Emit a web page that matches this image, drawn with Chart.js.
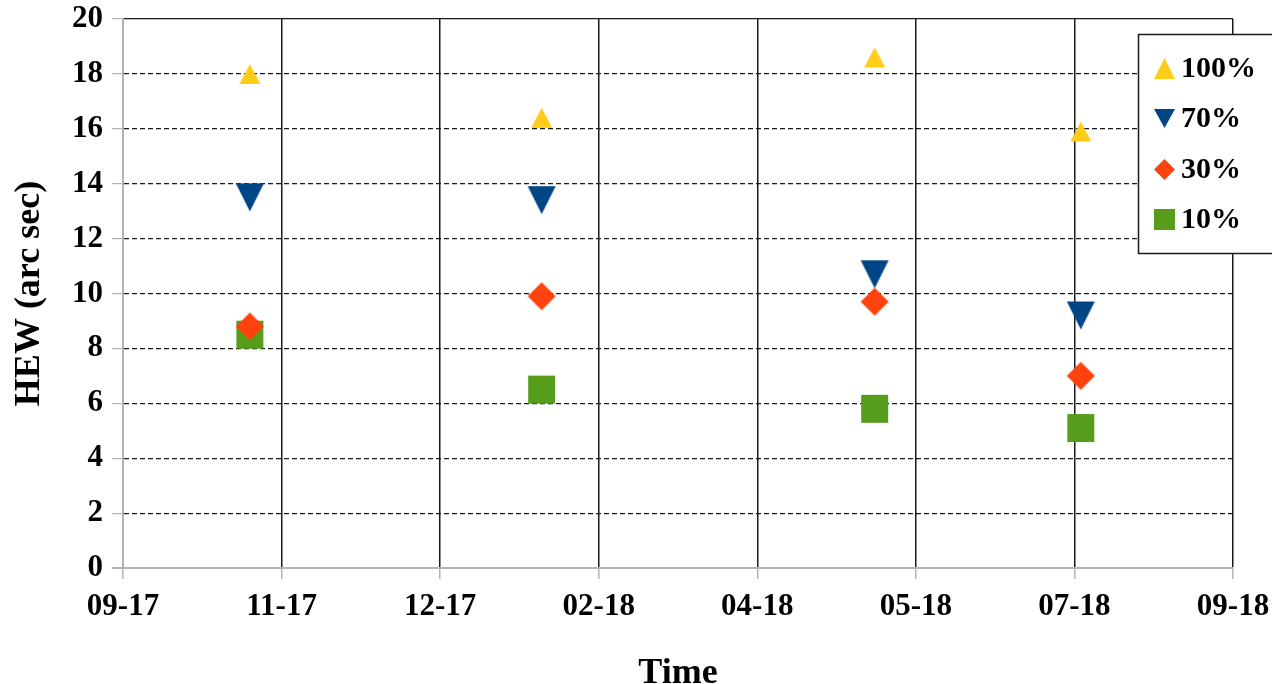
<!DOCTYPE html>
<html>
<head>
<meta charset="utf-8">
<script src="https://cdn.jsdelivr.net/npm/chart.js@4.4.1/dist/chart.umd.min.js"></script>
<style>
  html, body { margin: 0; padding: 0; background: #ffffff; }
  #wrap { width: 1272px; height: 684px; position: relative; }
</style>
</head>
<body>
<div id="wrap"><canvas id="chart" width="1272" height="684"></canvas></div>
<script>
// Measurement campaigns (dates) and half-energy width per encircled-energy level
const measurementDates = ['2017-10-30', '2018-01-30', '2018-05-15', '2018-07-19'];
const hew100 = [18.0, 16.4, 18.6, 15.9];
const hew70  = [13.5, 13.4, 10.7, 9.2];
const hew30  = [8.8, 9.9, 9.7, 7.0];
const hew10  = [8.5, 6.5, 5.8, 5.1];

// Time axis: starts on 2017-09-20, one tick every 50 days
const axisStart = '2017-09-20';
const tickStepDays = 50;
const tickLabels = ['09-17', '11-17', '12-17', '02-18', '04-18', '05-18', '07-18', '09-18'];

const DAY = 86400000;
function daysFromStart(d) {
  return (Date.parse(d + 'T00:00:00Z') - Date.parse(axisStart + 'T00:00:00Z')) / DAY;
}
function points(values) {
  return values.map((v, i) => ({ x: daysFromStart(measurementDates[i]), y: v }));
}

const FONT = "'Liberation Serif', 'Times New Roman', serif";
const AXIS_GREY = '#b3b3b3';

// Symbol bitmaps, centred on their bounding box like office-suite chart symbols
function makeMarker(shape, w, h, color) {
  const c = document.createElement('canvas');
  c.width = Math.ceil(w) + 2;
  c.height = Math.ceil(h) + 2;
  const g = c.getContext('2d');
  g.fillStyle = color;
  g.beginPath();
  const x0 = 1, y0 = 1;
  if (shape === 'up') {
    g.moveTo(x0 + w / 2, y0);
    g.lineTo(x0 + w, y0 + h);
    g.lineTo(x0, y0 + h);
  } else if (shape === 'down') {
    g.moveTo(x0, y0);
    g.lineTo(x0 + w, y0);
    g.lineTo(x0 + w / 2, y0 + h);
  } else if (shape === 'diamond') {
    g.moveTo(x0 + w / 2, y0);
    g.lineTo(x0 + w, y0 + h / 2);
    g.lineTo(x0 + w / 2, y0 + h);
    g.lineTo(x0, y0 + h / 2);
  } else {
    g.rect(x0, y0, w, h);
  }
  g.closePath();
  g.fill();
  return c;
}

const seriesStyles = [
  { label: '100%', values: hew100, shape: 'up',      w: 21, h: 20, color: '#ffcc1a' },
  { label: '70%',  values: hew70,  shape: 'down',    w: 28, h: 28, color: '#004586' },
  { label: '30%',  values: hew30,  shape: 'diamond', w: 28, h: 28, color: '#ff420e' },
  { label: '10%',  values: hew10,  shape: 'square',  w: 27, h: 28, color: '#579d1c' }
];

const datasets = seriesStyles.map(s => ({
  label: s.label,
  data: points(s.values),
  showLine: false,
  pointStyle: makeMarker(s.shape, s.w, s.h, s.color),
  legendSymbol: makeMarker(s.shape, 21, s.shape === 'down' ? 19 : 21, s.color),
  pointRadius: 14,
  pointHoverRadius: 14,
  backgroundColor: s.color,
  borderColor: s.color
}));

// Boxed legend at the upper right, overlapping the plot edge
const boxLegend = {
  id: 'boxLegend',
  afterDraw(chart) {
    const ctx = chart.ctx;
    const left = 1138, top = 34, right = 1290, bottom = 253;
    ctx.save();
    ctx.fillStyle = '#ffffff';
    ctx.fillRect(left, top, right - left, bottom - top);
    ctx.strokeStyle = '#1a1a1a';
    ctx.lineWidth = 1.5;
    ctx.strokeRect(left + 0.5, top + 0.5, right - left, bottom - top);
    const rowY = [68, 118, 169, 219];
    chart.data.datasets.forEach((ds, i) => {
      const img = ds.legendSymbol;
      ctx.drawImage(img, Math.round(1164 - img.width / 2), Math.round(rowY[i] - img.height / 2));
      ctx.fillStyle = '#000000';
      ctx.font = 'bold 30px ' + FONT;
      ctx.textAlign = 'left';
      ctx.textBaseline = 'middle';
      ctx.fillText(ds.label, 1181, rowY[i] + 1);
    });
    ctx.restore();
  }
};

new Chart(document.getElementById('chart'), {
  type: 'scatter',
  data: { datasets },
  plugins: [boxLegend],
  options: {
    responsive: false,
    animation: false,
    events: [],
    layout: { padding: { top: 19, right: 39, left: 0, bottom: 0 } },
    plugins: {
      legend: { display: false },
      tooltip: { enabled: false }
    },
    scales: {
      x: {
        type: 'linear',
        min: 0,
        max: tickStepDays * (tickLabels.length - 1),
        afterBuildTicks(scale) {
          scale.ticks = tickLabels.map((_, i) => ({ value: i * tickStepDays }));
        },
        afterFit(scale) {
          scale.height = 116;
          scale.paddingLeft = 0;
          scale.paddingRight = 0;
        },
        ticks: {
          autoSkip: false,
          maxRotation: 0,
          padding: 9,
          color: '#000000',
          font: { family: FONT, size: 31, weight: 'bold' },
          callback: (v, i) => tickLabels[i]
        },
        grid: {
          color: ctx => ctx.index === 0 ? AXIS_GREY : '#1a1a1a',
          lineWidth: 1.5,
          tickColor: AXIS_GREY,
          tickLength: 11
        },
        border: { color: AXIS_GREY, width: 2 },
        title: {
          display: true,
          text: 'Time',
          color: '#000000',
          font: { family: FONT, size: 36, weight: 'bold', lineHeight: 0.57 },
          padding: { top: 0, bottom: 0 }
        }
      },
      y: {
        min: 0,
        max: 20,
        afterFit(scale) {
          scale.width = 123;
          scale.paddingTop = 0;
          scale.paddingBottom = 0;
        },
        ticks: {
          stepSize: 2,
          padding: 9,
          color: '#000000',
          font: { family: FONT, size: 31, weight: 'bold' }
        },
        grid: {
          color: ctx => ctx.index === 0 ? AXIS_GREY : '#1a1a1a',
          lineWidth: ctx => ctx.index === 0 ? 2 : 1.2,
          tickColor: AXIS_GREY,
          tickLength: 11
        },
        border: {
          color: AXIS_GREY,
          width: 2,
          dash: ctx => (ctx.tick && ctx.tick.value === 20) || ctx.index === 0 ? [] : [5, 3]
        },
        title: {
          display: true,
          text: 'HEW (arc sec)',
          color: '#000000',
          font: { family: FONT, size: 36, weight: 'bold' },
          padding: { top: 8, bottom: 0 }
        }
      }
    }
  }
});
</script>
</body>
</html>
